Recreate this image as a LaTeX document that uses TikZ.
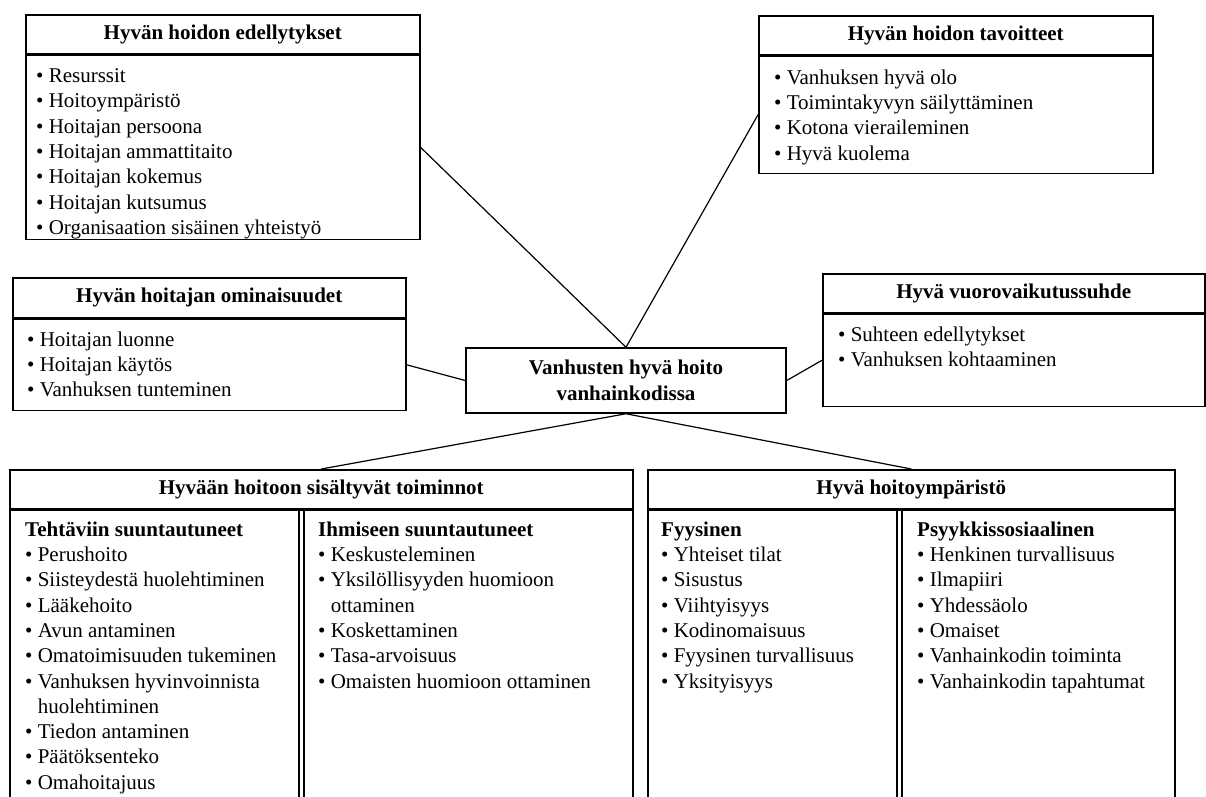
\documentclass[tikz,border=0pt]{standalone}
\usepackage{fontspec}
\setmainfont{Liberation Serif}
\usetikzlibrary{positioning}
\tikzset{
  hhhead/.style={draw, line width=1.5pt, anchor=north west, inner sep=0pt, align=center,
    font=\fontsize{21pt}{25.3pt}\selectfont\bfseries},
  hhbody/.style={draw, line width=1.5pt, inner sep=0pt},
  hhlist/.style={anchor=north west, inner sep=0pt, align=left,
    font=\fontsize{21pt}{25.3pt}\selectfont},
  hhhub/.style={draw, line width=1.5pt, inner sep=0pt, align=center,
    font=\fontsize{21pt}{26pt}\selectfont\bfseries},
  hhlink/.style={line width=1.2pt},
  hhsplit/.style={line width=1.2pt}
}
\newcommand{\hhb}{\textbullet\ }
\newcommand{\hhc}{\hphantom{\textbullet\ }}

\begin{document}
\begin{tikzpicture}[x=1pt, y=-1pt]
  \useasboundingbox (0,0) rectangle (1206,796);

  \node[hhhead, minimum width=394pt, minimum height=39pt] (preHead) at (25,14) {Hyvän hoidon edellytykset};
  \node[hhbody, minimum width=394pt, minimum height=184pt, below=0pt of preHead] (preBody) {};
  \node[hhlist] (preList) at ([xshift=11pt, yshift=-14pt]preBody.north west)
    {\hhb Resurssit\\ \hhb Hoitoympäristö\\ \hhb Hoitajan persoona\\ \hhb Hoitajan ammattitaito\\
     \hhb Hoitajan kokemus\\ \hhb Hoitajan kutsumus\\ \hhb Organisaation sisäinen yhteistyö};

  \node[hhhead, minimum width=394pt, minimum height=39pt] (goalHead) at (758,15) {Hyvän hoidon tavoitteet};
  \node[hhbody, minimum width=394pt, minimum height=117pt, below=0pt of goalHead] (goalBody) {};
  \node[hhlist] (goalList) at ([xshift=16pt, yshift=-14pt]goalBody.north west)
    {\hhb Vanhuksen hyvä olo\\ \hhb Toimintakyvyn säilyttäminen\\ \hhb Kotona vieraileminen\\ \hhb Hyvä kuolema};

  \node[hhhead, minimum width=393pt, minimum height=40pt] (nurseHead) at (12,277) {Hyvän hoitajan ominaisuudet};
  \node[hhbody, minimum width=393pt, minimum height=91pt, below=0pt of nurseHead] (nurseBody) {};
  \node[hhlist] (nurseList) at ([xshift=15pt, yshift=-13pt]nurseBody.north west)
    {\hhb Hoitajan luonne\\ \hhb Hoitajan käytös\\ \hhb Vanhuksen tunteminen};

  \node[hhhead, minimum width=382pt, minimum height=39pt] (relHead) at (822,273) {Hyvä vuorovaikutussuhde};
  \node[hhbody, minimum width=382pt, minimum height=92pt, below=0pt of relHead] (relBody) {};
  \node[hhlist] (relList) at ([xshift=16pt, yshift=-13pt]relBody.north west)
    {\hhb Suhteen edellytykset\\ \hhb Vanhuksen kohtaaminen};

  \node[hhhub, minimum width=320pt, minimum height=65pt] (hub) at (626,380.5) {Vanhusten hyvä hoito\\vanhainkodissa};

  \node[hhhead, minimum width=623pt, minimum height=39pt] (actHead) at (9,469) {Hyvään hoitoon sisältyvät toiminnot};
  \node[hhbody, minimum width=623pt, minimum height=300pt, below=0pt of actHead] (actBody) {};
  \draw[hhsplit] ([xshift=290pt]actBody.north west) -- ([xshift=290pt]actBody.south west);
  \draw[hhsplit] ([xshift=295pt]actBody.north west) -- ([xshift=295pt]actBody.south west);
  \node[hhlist] (taskList) at ([xshift=16pt, yshift=-12pt]actBody.north west)
    {\textbf{Tehtäviin suuntautuneet}\\ \hhb Perushoito\\ \hhb Siisteydestä huolehtiminen\\ \hhb Lääkehoito\\
     \hhb Avun antaminen\\ \hhb Omatoimisuuden tukeminen\\ \hhb Vanhuksen hyvinvoinnista\\ \hhc huolehtiminen\\
     \hhb Tiedon antaminen\\ \hhb Päätöksenteko\\ \hhb Omahoitajuus};
  \node[hhlist] (humanList) at ([xshift=309pt, yshift=-12pt]actBody.north west)
    {\textbf{Ihmiseen suuntautuneet}\\ \hhb Keskusteleminen\\ \hhb Yksilöllisyyden huomioon\\ \hhc ottaminen\\
     \hhb Koskettaminen\\ \hhb Tasa-arvoisuus\\ \hhb Omaisten huomioon ottaminen};

  \node[hhhead, minimum width=527pt, minimum height=39pt] (envHead) at (647,469) {Hyvä hoitoympäristö};
  \node[hhbody, minimum width=527pt, minimum height=300pt, below=0pt of envHead] (envBody) {};
  \draw[hhsplit] ([xshift=250pt]envBody.north west) -- ([xshift=250pt]envBody.south west);
  \draw[hhsplit] ([xshift=255pt]envBody.north west) -- ([xshift=255pt]envBody.south west);
  \node[hhlist] (physList) at ([xshift=14pt, yshift=-12pt]envBody.north west)
    {\textbf{Fyysinen}\\ \hhb Yhteiset tilat\\ \hhb Sisustus\\ \hhb Viihtyisyys\\ \hhb Kodinomaisuus\\
     \hhb Fyysinen turvallisuus\\ \hhb Yksityisyys};
  \node[hhlist] (psyList) at ([xshift=270pt, yshift=-12pt]envBody.north west)
    {\textbf{Psyykkissosiaalinen}\\ \hhb Henkinen turvallisuus\\ \hhb Ilmapiiri\\ \hhb Yhdessäolo\\ \hhb Omaiset\\
     \hhb Vanhainkodin toiminta\\ \hhb Vanhainkodin tapahtumat};

  \draw[hhlink] (preBody.east) -- (hub.north);
  \draw[hhlink] (goalBody.west) -- (hub.north);
  \draw[hhlink] (nurseBody.east) -- (hub.west);
  \draw[hhlink] (hub.east) -- (relBody.west);
  \draw[hhlink] (hub.south) -- (actHead.north);
  \draw[hhlink] (hub.south) -- (envHead.north);
\end{tikzpicture}
\end{document}
